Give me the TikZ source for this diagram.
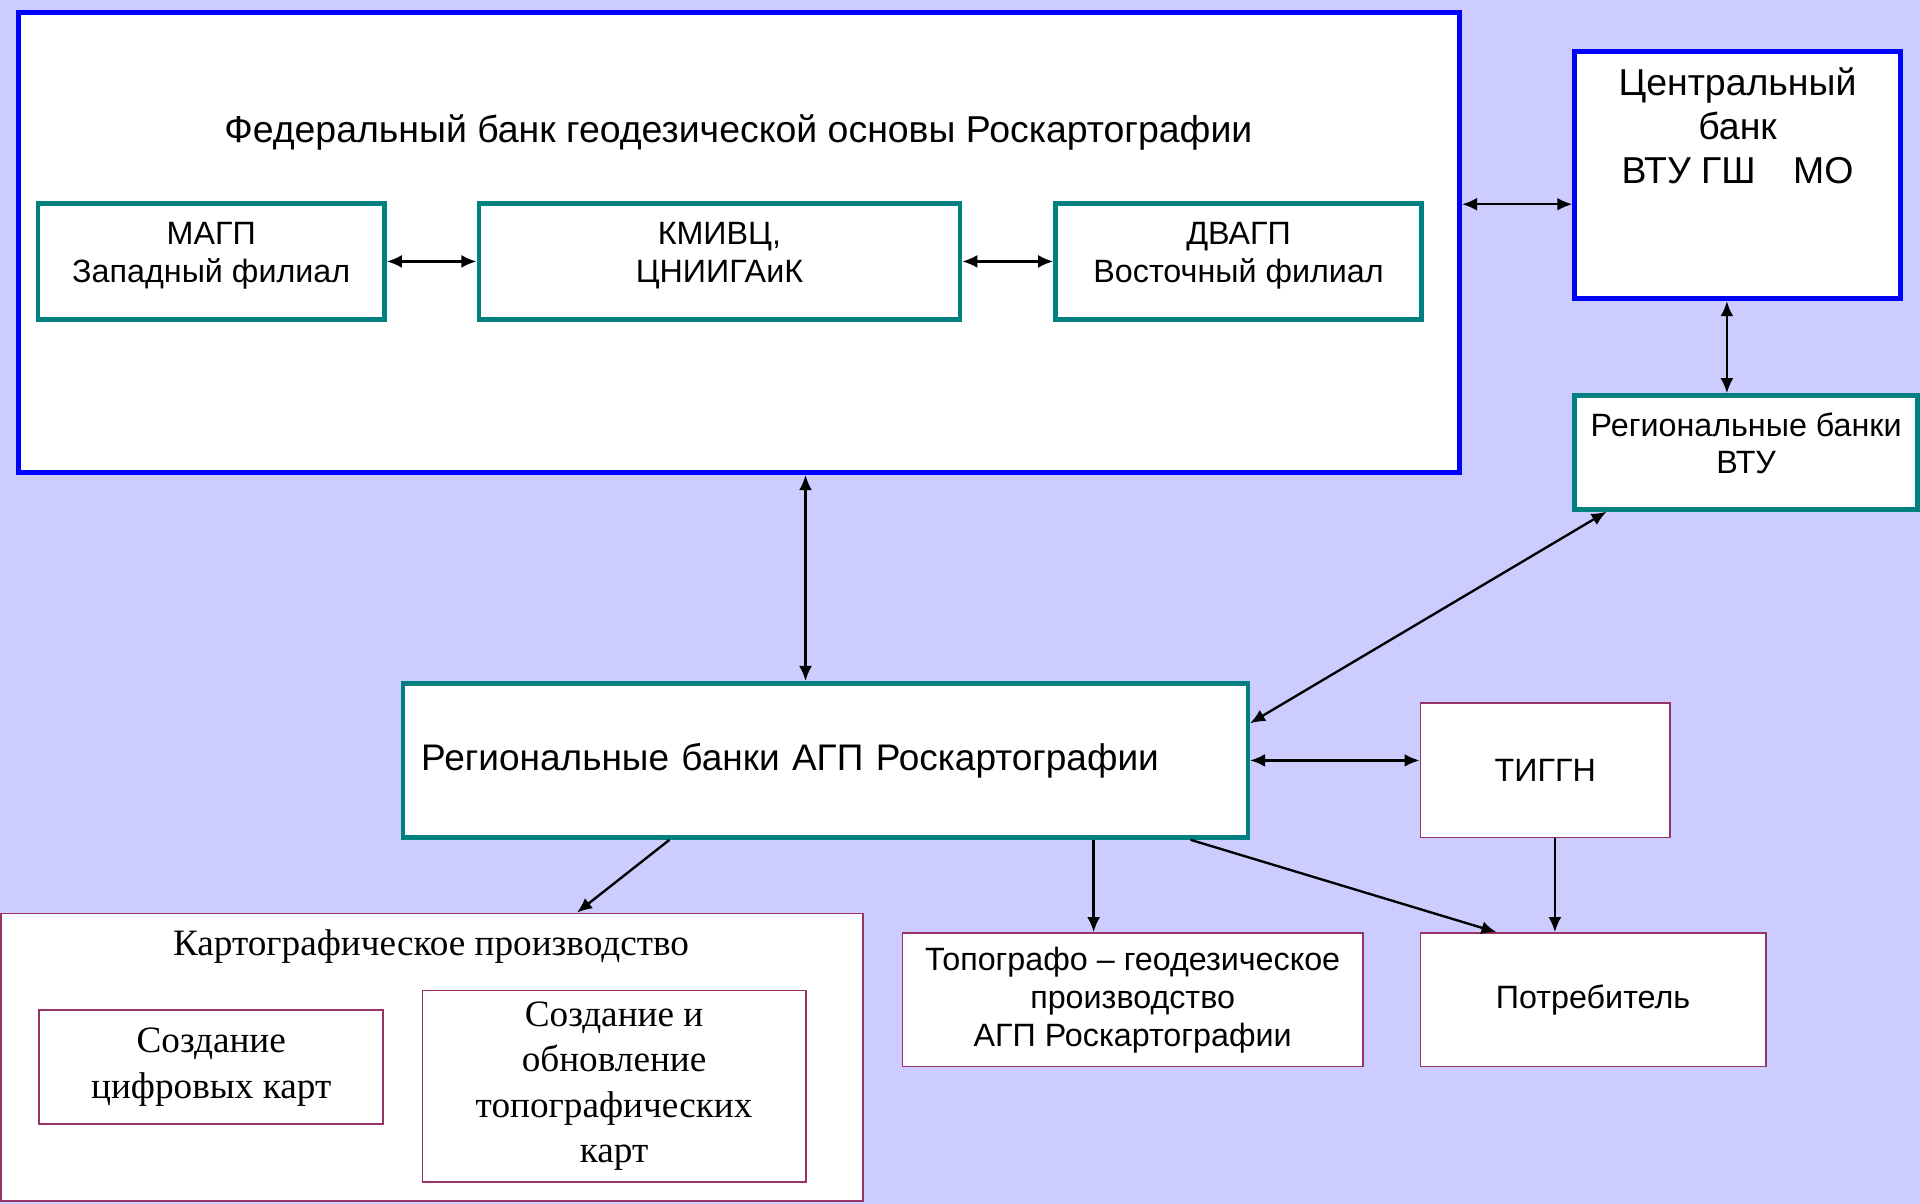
\documentclass[tikz,border=0pt]{standalone}
\usepackage{fontspec}
\setmainfont{Liberation Sans}
\newfontfamily\timesru{Liberation Serif}
\usetikzlibrary{arrows.meta,calc}
\definecolor{pagebg}{HTML}{CCCCFF}
\definecolor{fedblue}{HTML}{0000FF}
\definecolor{tealc}{HTML}{008080}
\definecolor{plum}{HTML}{993366}
\begin{document}
\begin{tikzpicture}[x=1cm,y=1cm, >={Latex[length=7pt,width=6pt]},
  bluebox/.style={draw=fedblue, line width=2.2pt, fill=white, rectangle, align=center},
  tealbox/.style={draw=tealc, line width=2.1pt, fill=white, rectangle, align=center},
  plumbox/.style={draw=plum, line width=0.8pt, fill=white, rectangle, align=center},
  link/.style={line width=1.1pt},
  sans/.style={font=\fontsize{15}{17.6}\selectfont},
  sansbig/.style={font=\fontsize{17.4}{20.5}\selectfont},
  serifru/.style={font=\timesru\fontsize{17.3}{21}\selectfont}]
\fill[pagebg] (0,0) rectangle (31.36,-19.66);
% federal bank
\node[bluebox, minimum width=23.54cm, minimum height=7.52cm] (fed) at (12.07,-3.96) {};
\node[sansbig, align=center] (fedtitle) at (12.06,-2.16) {Федеральный банк геодезической основы Роскартографии};
\node[tealbox, sans, minimum width=5.66cm, minimum height=1.9cm] (magp) at (3.45,-4.27) {МАГП\\Западный филиал\\[-9pt]};
\node[tealbox, sans, minimum width=7.86cm, minimum height=1.9cm] (kmivc) at (11.75,-4.27) {КМИВЦ,\\ЦНИИГАиК\\[-9pt]};
\node[tealbox, sans, minimum width=5.98cm, minimum height=1.9cm] (dvagp) at (20.23,-4.27) {ДВАГП\\Восточный филиал\\[-9pt]};
% military side
\node[bluebox, minimum width=5.32cm, minimum height=4.04cm] (cb) at (28.38,-2.86) {};
\node[sansbig, align=center] (cbtext) at (28.38,-2.06) {Центральный\\банк\\ВТУ ГШ\quad МО};
\node[tealbox, sans, minimum width=5.6cm, minimum height=1.86cm] (vtu) at (28.52,-7.39) {Региональные банки\\ВТУ\\[-9pt]};
% regional level
\node[tealbox, font=\fontsize{17.2}{20.5}\selectfont, text width=13.2cm, inner xsep=0.3cm, minimum height=2.52cm, align=left] (agp) at (13.48,-12.42) {Региональные банки АГП Роскартографии};
\node[plumbox, sans, minimum width=4.08cm, minimum height=2.2cm] (tiggn) at (25.24,-12.58) {ТИГГН};
\node[plumbox, sans, minimum width=5.64cm, minimum height=2.18cm] (potr) at (26.02,-16.33) {Потребитель};
\node[plumbox, sans, minimum width=7.52cm, minimum height=2.18cm] (topo) at (18.5,-16.33) {Топографо -- геодезическое\\производство\\АГП Роскартографии};
% cartographic production
\node[plumbox, minimum width=14.08cm, minimum height=4.7cm] (karto) at (7.06,-17.27) {};
\node[serifru] (kartotitle) at (7.04,-15.46) {Картографическое производство};
\node[plumbox, serifru, minimum width=5.62cm, minimum height=1.86cm] (cifr) at (3.45,-17.43) {Создание\\цифровых карт};
\node[plumbox, serifru, minimum width=6.26cm, minimum height=3.12cm] (obn) at (10.03,-17.74) {Создание и\\обновление\\топографических\\карт};
% connectors
\draw[link, <->] (magp) -- (kmivc);
\draw[link, <->] (kmivc) -- (dvagp);
\draw[link, <->] (fed.east |- cb.190) -- (cb.190);
\draw[link, <->] (cb.south -| vtu.108) -- (vtu.108);
\draw[link, <->] (fed.south -| agp.104) -- (agp.104);
\draw[link, <->] (vtu.203) -- (agp.5);
\draw[link, <->] (agp.east) -- (agp.east -| tiggn.west);
\draw[link, ->] (tiggn.278) -- (tiggn.278 |- potr.north);
\draw[link, ->] (agp.south -| topo.120) -- (topo.120);
\draw[link, ->] ($(agp.south)!0.86!(agp.south east)$) -- (potr.145);
\draw[link, ->] (agp.207) -- (karto.45);
\end{tikzpicture}
\end{document}
